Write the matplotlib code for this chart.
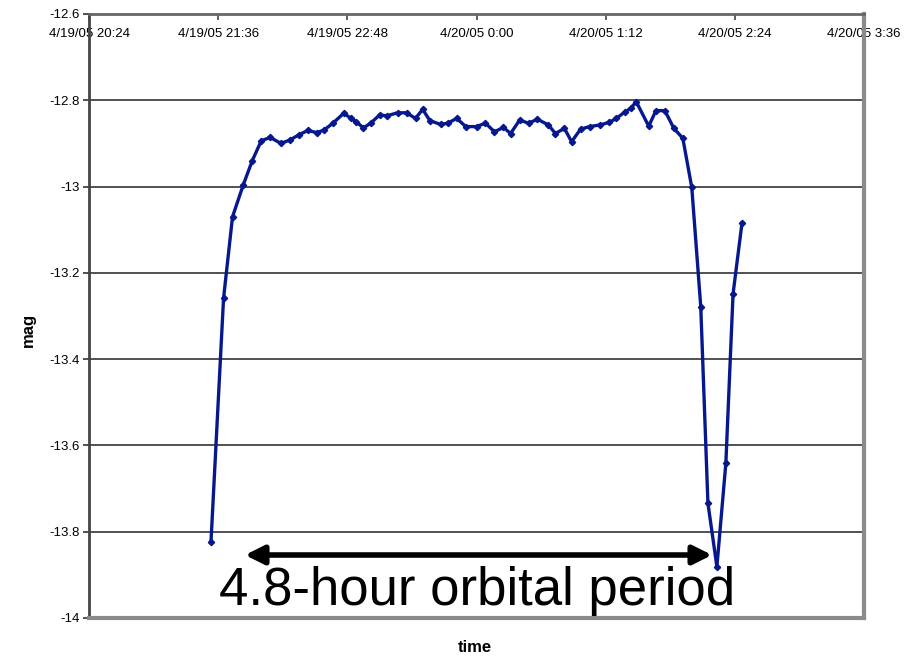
import matplotlib
matplotlib.use("Agg")
import matplotlib.pyplot as plt
import matplotlib.dates as mdates
from matplotlib.ticker import FuncFormatter, MultipleLocator
import pandas as pd

plt.rcParams['font.family'] = ['Liberation Sans', 'DejaVu Sans']

times = ["4/19/05 21:32", "4/19/05 21:39", "4/19/05 21:44", "4/19/05 21:50", "4/19/05 21:55",
         "4/19/05 22:00", "4/19/05 22:05", "4/19/05 22:11", "4/19/05 22:16", "4/19/05 22:21",
         "4/19/05 22:26", "4/19/05 22:31", "4/19/05 22:35", "4/19/05 22:40", "4/19/05 22:46",
         "4/19/05 22:50", "4/19/05 22:53", "4/19/05 22:57", "4/19/05 23:01", "4/19/05 23:06",
         "4/19/05 23:10", "4/19/05 23:16", "4/19/05 23:21", "4/19/05 23:26", "4/19/05 23:30",
         "4/19/05 23:34", "4/19/05 23:40", "4/19/05 23:44", "4/19/05 23:49", "4/19/05 23:54",
         "4/20/05 0:00", "4/20/05 0:05", "4/20/05 0:10", "4/20/05 0:15", "4/20/05 0:19",
         "4/20/05 0:24", "4/20/05 0:29", "4/20/05 0:34", "4/20/05 0:40", "4/20/05 0:44",
         "4/20/05 0:49", "4/20/05 0:53", "4/20/05 0:58", "4/20/05 1:03", "4/20/05 1:09",
         "4/20/05 1:14", "4/20/05 1:18", "4/20/05 1:23", "4/20/05 1:26", "4/20/05 1:29",
         "4/20/05 1:36", "4/20/05 1:40", "4/20/05 1:45", "4/20/05 1:50", "4/20/05 1:55",
         "4/20/05 2:00", "4/20/05 2:05", "4/20/05 2:09", "4/20/05 2:14", "4/20/05 2:19",
         "4/20/05 2:23", "4/20/05 2:28"]

mag = [-13.823, -13.259, -13.070, -12.996, -12.940,
       -12.894, -12.886, -12.900, -12.892, -12.880,
       -12.870, -12.875, -12.869, -12.853, -12.830,
       -12.842, -12.850, -12.864, -12.853, -12.834,
       -12.836, -12.829, -12.829, -12.842, -12.821,
       -12.847, -12.856, -12.853, -12.842, -12.861,
       -12.861, -12.853, -12.873, -12.863, -12.877,
       -12.846, -12.853, -12.844, -12.857, -12.877,
       -12.865, -12.896, -12.867, -12.861, -12.857,
       -12.851, -12.842, -12.826, -12.819, -12.803,
       -12.860, -12.824, -12.824, -12.865, -12.888,
       -13.002, -13.278, -13.734, -13.881, -13.641,
       -13.249, -13.084]

t = pd.to_datetime(times, format="%m/%d/%y %H:%M")
t_start = pd.Timestamp("2005-04-19 20:24")
t_end = pd.Timestamp("2005-04-20 03:36")

fig = plt.figure(figsize=(9.2, 6.6), dpi=100)
ax = fig.add_axes([89/920, 1 - 618/660, 775/920, 604/660])

ax.plot(t, mag, color='#07188f', lw=2.4, marker='D', ms=3.2, zorder=3)

ax.set_xlim(t_start, t_end)
ax.set_ylim(-14, -12.6)
ax.yaxis.set_major_locator(MultipleLocator(0.2))
ax.yaxis.set_major_formatter(FuncFormatter(lambda v, p: "{:g}".format(round(v, 1))))
ax.set_xticks(pd.date_range(t_start, t_end, freq="72min"))

def fmt_date(v, p):
    d = mdates.num2date(v)
    return "{}/{}/{} {}:{:02d}".format(d.month, d.day, d.strftime("%y"), d.hour, d.minute)

ax.xaxis.set_major_formatter(FuncFormatter(fmt_date))
ax.tick_params(axis='x', top=True, bottom=False, labeltop=True, labelbottom=False,
               direction='in', length=4, width=1.2, color='#444', pad=-19, labelsize=9.5)
ax.tick_params(axis='y', direction='out', length=4, width=1.2, color='#333', pad=3, labelsize=9.5)

ax.grid(axis='y', color='#222', lw=1.1)
ax.set_axisbelow(True)
ax.spines['left'].set_color('#444')
ax.spines['left'].set_linewidth(2)
ax.spines['top'].set_color('#666')
ax.spines['top'].set_linewidth(2)
ax.spines['right'].set_color('#8a8a8a')
ax.spines['right'].set_linewidth(3)
ax.spines['bottom'].set_color('#8a8a8a')
ax.spines['bottom'].set_linewidth(3)

fig.text(28/920, 1 - 330/660, "mag", rotation=90, ha='center', va='center',
         fontsize=12, fontweight='bold')
fig.text(475/920, 1 - 648/660, "time", ha='center', va='center',
         fontsize=12, fontweight='bold')

# orbital period annotation
ax.annotate('', xy=(0.8039, 0.1043), xytext=(0.2013, 0.1043), xycoords='axes fraction',
            arrowprops=dict(arrowstyle='<|-|>', lw=4, mutation_scale=28, color='black',
                            shrinkA=0, shrinkB=0))
ax.text(0.5006, 0.0215, "4.8-hour orbital period", transform=ax.transAxes,
        ha='center', va='baseline', fontsize=38)

fig.savefig("out.png", dpi=100)
